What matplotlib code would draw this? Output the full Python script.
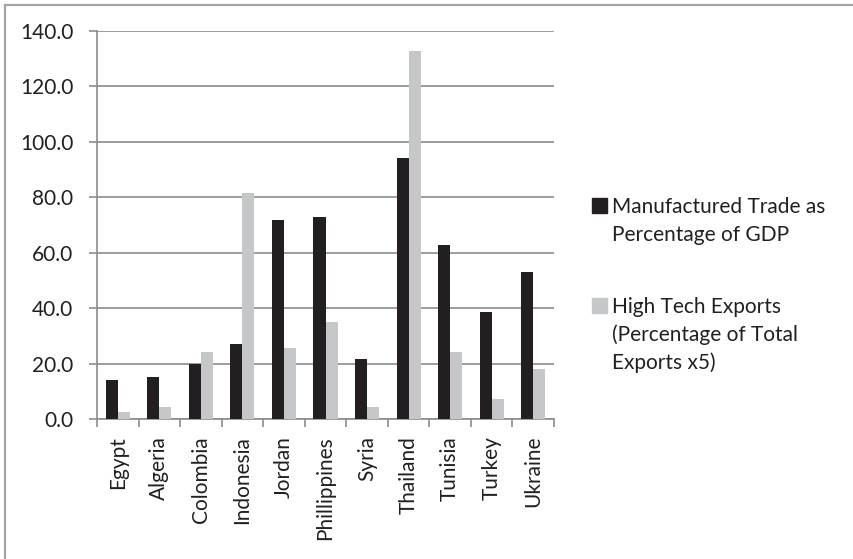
import matplotlib
matplotlib.use("Agg")
import matplotlib.pyplot as plt
import numpy as np
from matplotlib.patches import Rectangle
from matplotlib.lines import Line2D

countries = ["Egypt", "Algeria", "Colombia", "Indonesia", "Jordan", "Phillippines",
             "Syria", "Thailand", "Tunisia", "Turkey", "Ukraine"]
manufactured = [14.2, 15.3, 19.9, 27.0, 71.8, 73.0, 21.8, 94.2, 62.8, 38.5, 53.2]
hightech = [2.6, 4.5, 24.4, 81.5, 25.6, 35.2, 4.5, 132.7, 24.4, 7.2, 18.0]
series_names = ["Manufactured Trade as\nPercentage of GDP",
                "High Tech Exports\n(Percentage of Total\nExports x5)"]
yticks = [0, 20, 40, 60, 80, 100, 120, 140]

W, H = 854, 559
fig = plt.figure(figsize=(W / 100, H / 100), dpi=100)
plt.rcParams['font.family'] = ['Lato', 'DejaVu Sans']
txtc = "#231f20"
FS = 15

# figure border (only top and left visible, cropped image)
fig.lines.append(Line2D([5 / W, 1], [1 - 5 / H, 1 - 5 / H], transform=fig.transFigure,
                        color="#a6a6a6", linewidth=1.6))
fig.lines.append(Line2D([5 / W, 5 / W], [0, 1 - 5 / H], transform=fig.transFigure,
                        color="#a6a6a6", linewidth=1.6))

left, right, top, bottom = 97, 554, 30.7, 419.3
ax = fig.add_axes([left / W, 1 - bottom / H, (right - left) / W, (bottom - top) / H])

x = np.arange(len(countries))
w = 0.29
ax.bar(x - w / 2, manufactured, w, color="#231f20", zorder=3)
ax.bar(x + w / 2, hightech, w, color="#c6c7c8", zorder=3)

ax.set_xlim(-0.5, len(countries) - 0.5)
ax.set_ylim(0, 140)
ax.set_yticks(yticks)
ax.set_yticklabels([f"{v:.1f}" for v in yticks], fontsize=FS, color=txtc)
ax.yaxis.grid(True, color="#8c8c8c", linewidth=1.2, zorder=0)
ax.set_axisbelow(True)

ax.set_xticks(np.arange(len(countries) + 1) - 0.5)
ax.set_xticklabels([])
ax.set_xticks(x, minor=True)
ax.set_xticklabels(countries, minor=True, rotation=90, fontsize=FS, color=txtc,
                   va="top", ha="center")
ax.tick_params(axis="x", which="minor", length=0, pad=12)
ax.tick_params(axis="x", which="major", length=6, color="#8c8c8c", width=1.2)
ax.tick_params(axis="y", length=6, color="#8c8c8c", width=1.2, pad=11)

for s in ["top", "right"]:
    ax.spines[s].set_visible(False)
for s in ["left", "bottom"]:
    ax.spines[s].set_color("#8c8c8c")
    ax.spines[s].set_linewidth(1.2)

# legend
colors = ["#231f20", "#c6c7c8"]
first_baselines = [213, 313]
line_step = 28
for name, c, b0 in zip(series_names, colors, first_baselines):
    fig.patches.append(Rectangle((592 / W, 1 - b0 / H), 15 / W, 15 / H,
                                 transform=fig.transFigure, color=c))
    for i, line in enumerate(name.split("\n")):
        fig.text(612 / W, 1 - (b0 + i * line_step) / H, line, fontsize=FS, color=txtc,
                 va="baseline", ha="left")

fig.savefig("out.png", dpi=100)
